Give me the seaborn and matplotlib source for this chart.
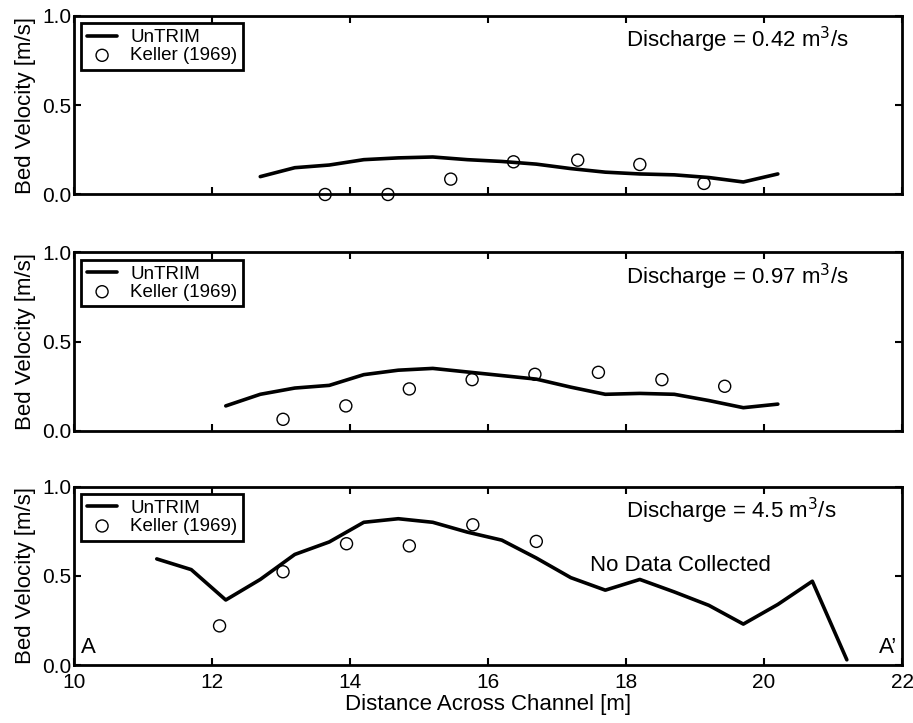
import numpy as np
import pandas as pd
import matplotlib
matplotlib.use("Agg")
import matplotlib.pyplot as plt
import seaborn as sns

# UnTRIM model profiles (distance [m], bed velocity [m/s])
untrim_x_1 = [12.7, 13.2, 13.7, 14.2, 14.7, 15.2, 15.7, 16.2, 16.7, 17.2, 17.7, 18.2, 18.7, 19.2, 19.7, 20.2]
untrim_v_1 = [0.10, 0.15, 0.165, 0.195, 0.205, 0.21, 0.195, 0.185, 0.17, 0.145, 0.125, 0.115, 0.11, 0.095, 0.07, 0.115]

untrim_x_2 = [12.2, 12.7, 13.2, 13.7, 14.2, 14.7, 15.2, 15.7, 16.2, 16.7, 17.2, 17.7, 18.2, 18.7, 19.2, 19.7, 20.2]
untrim_v_2 = [0.14, 0.205, 0.24, 0.255, 0.315, 0.34, 0.35, 0.33, 0.31, 0.29, 0.245, 0.205, 0.21, 0.205, 0.17, 0.13, 0.15]

untrim_x_3 = [11.2, 11.7, 12.2, 12.7, 13.2, 13.7, 14.2, 14.7, 15.2, 15.7, 16.2, 16.7, 17.2, 17.7, 18.2, 18.7, 19.2, 19.7, 20.2, 20.7, 21.2]
untrim_v_3 = [0.595, 0.535, 0.365, 0.48, 0.62, 0.69, 0.80, 0.82, 0.80, 0.745, 0.70, 0.60, 0.49, 0.42, 0.48, 0.41, 0.335, 0.23, 0.34, 0.47, 0.03]

# Keller (1969) measurements
keller_x_1 = [13.64, 14.55, 15.46, 16.37, 17.3, 18.2, 19.13]
keller_v_1 = [0.0, 0.0, 0.086, 0.183, 0.192, 0.168, 0.062]

keller_x_2 = [13.03, 13.94, 14.86, 15.77, 16.68, 17.6, 18.52, 19.43]
keller_v_2 = [0.065, 0.14, 0.235, 0.287, 0.317, 0.328, 0.287, 0.25]

keller_x_3 = [12.11, 13.03, 13.95, 14.86, 15.78, 16.7]
keller_v_3 = [0.22, 0.523, 0.68, 0.668, 0.786, 0.693]

discharges = ["0.42", "0.97", "4.5"]

sns.set_style("ticks")
plt.rcParams['font.family'] = ['Liberation Sans', 'DejaVu Sans']
for key in ['text.color', 'axes.labelcolor', 'xtick.color', 'ytick.color', 'axes.edgecolor']:
    plt.rcParams[key] = 'black'

fig = plt.figure(figsize=(9.13, 7.23), dpi=100)
left, width = 0.081, 0.907
bottoms = [0.731, 0.404, 0.080]
height = 0.247

panels = [
    (untrim_x_1, untrim_v_1, keller_x_1, keller_v_1),
    (untrim_x_2, untrim_v_2, keller_x_2, keller_v_2),
    (untrim_x_3, untrim_v_3, keller_x_3, keller_v_3),
]

for i, (ux, uv, kx, kv) in enumerate(panels):
    ax = fig.add_axes([left, bottoms[i], width, height])
    model = pd.DataFrame({"x": ux, "v": uv})
    obs = pd.DataFrame({"x": kx, "v": kv})
    sns.lineplot(data=model, x="x", y="v", ax=ax, color="black", lw=2.6,
                 label="UnTRIM", sort=False)
    sns.scatterplot(data=obs, x="x", y="v", ax=ax, marker="o", s=75,
                    facecolor="none", edgecolor="black", linewidth=1.0,
                    label="Keller (1969)", clip_on=False, zorder=3)
    ax.set_xlim(10, 22)
    ax.set_ylim(0, 1.0)
    ax.set_xticks(np.arange(10, 23, 2))
    ax.set_yticks([0.0, 0.5, 1.0])
    ax.set_yticklabels(["0.0", "0.5", "1.0"])
    ax.tick_params(direction="in", top=True, right=True, length=5, width=1.5,
                   labelsize=15)
    ax.tick_params(axis="y", pad=2)
    ax.tick_params(axis="x", pad=6)
    for s in ax.spines.values():
        s.set_linewidth(2)
        s.set_visible(True)
    ax.set_ylabel("Bed Velocity [m/s]", fontsize=16, labelpad=4)
    if i < 2:
        ax.set_xlabel("")
        ax.tick_params(labelbottom=False)
    else:
        ax.set_xlabel("Distance Across Channel [m]", fontsize=16, labelpad=1)
    leg = ax.legend(loc="upper left", fontsize=13.5, frameon=True, fancybox=False,
                    borderaxespad=0.4, handlelength=1.6, handletextpad=0.7,
                    borderpad=0.3, labelspacing=0.05, framealpha=1)
    leg.get_frame().set_edgecolor("black")
    leg.get_frame().set_linewidth(2)
    ax.text(18.0, 0.865, "Discharge = " + discharges[i] + " m$^3$/s",
            fontsize=16, va="center", ha="left")

ax.text(18.79, 0.56, "No Data Collected", fontsize=16, ha="center", va="center")
ax.text(10.1, 0.04, "A", fontsize=16, ha="left", va="bottom")
ax.text(21.93, 0.04, "A\u2019", fontsize=16, ha="right", va="bottom")

fig.savefig("out.png", dpi=100)
